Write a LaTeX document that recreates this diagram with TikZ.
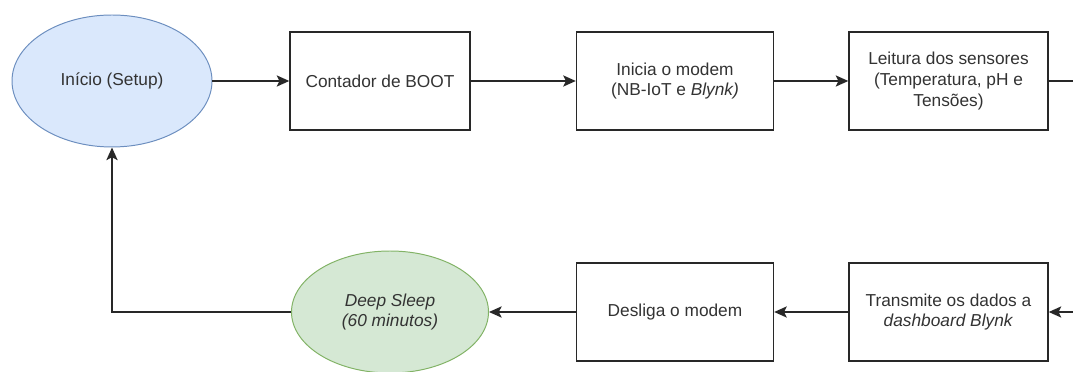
\documentclass[tikz,border=0pt]{standalone}
\usepackage{fontspec}
\setmainfont{Liberation Sans}
\usepackage{xcolor}
\usepackage{tikz}
\usetikzlibrary{positioning, arrows.meta, shapes.geometric}
\definecolor{StartBlue}{HTML}{DAE8FC}
\definecolor{StartEdge}{HTML}{6C8EBF}
\definecolor{SleepGreen}{HTML}{D5E8D4}
\definecolor{SleepEdge}{HTML}{82B366}
\definecolor{LineGray}{RGB}{40,40,40}
\tikzset{
  stepbox/.style={draw=LineGray, line width=1pt, fill=white, minimum height=2.45cm,
    inner sep=1pt, align=center, font=\fontsize{12.3}{14.8}\selectfont, text=black!80},
  termnode/.style={ellipse, line width=0.7pt, inner sep=0pt, align=center,
    font=\fontsize{12.3}{14.8}\selectfont, text=black!80},
  flowarr/.style={-{Stealth[length=9pt, width=8pt, inset=2pt]}, line width=1pt, LineGray},
}
\begin{document}
\begin{tikzpicture}
  \useasboundingbox (0,0) rectangle (26.825,9.3);
  % top row
  \node[termnode, draw=StartEdge, fill=StartBlue, minimum width=5cm, minimum height=3.3cm] (inicio) at (2.8,7.275) {Início (Setup)};
  \node[stepbox, minimum width=4.5cm] (contador) at (9.5,7.275) {Contador de BOOT};
  \node[stepbox, minimum width=4.925cm] (modem) at (16.875,7.275) {Inicia o modem\\(NB-IoT e \textit{Blynk)}};
  \node[stepbox, minimum width=4.975cm] (leitura) at (23.7125,7.275) {Leitura dos sensores\\(Temperatura, pH e\\Tensões)};
  % bottom row
  \node[stepbox, minimum width=4.975cm] (transmite) at (23.7125,1.5) {Transmite os dados a\\\textit{dashboard Blynk}};
  \node[stepbox, minimum width=4.925cm] (desliga) at (16.875,1.5) {Desliga o modem};
  \node[termnode, draw=SleepEdge, fill=SleepGreen, minimum width=4.925cm, minimum height=3.05cm] (sleep) at (9.75,1.5) {\textit{Deep Sleep}\\\textit{(60 minutos)}};
  % loose ends at the right border
  \coordinate (outR) at (26.825,7.275);
  \coordinate (inR) at (26.825,1.5);
  % connectors
  \draw[flowarr] (inicio) -- (contador);
  \draw[flowarr] (contador) -- (modem);
  \draw[flowarr] (modem) -- (leitura);
  \draw[line width=1pt, LineGray] (leitura) -- (outR);
  \draw[flowarr] (inR) -- (transmite);
  \draw[flowarr] (transmite) -- (desliga);
  \draw[flowarr] (desliga) -- (sleep);
  \draw[flowarr] (sleep.west) -| (inicio.south);
\end{tikzpicture}
\end{document}
